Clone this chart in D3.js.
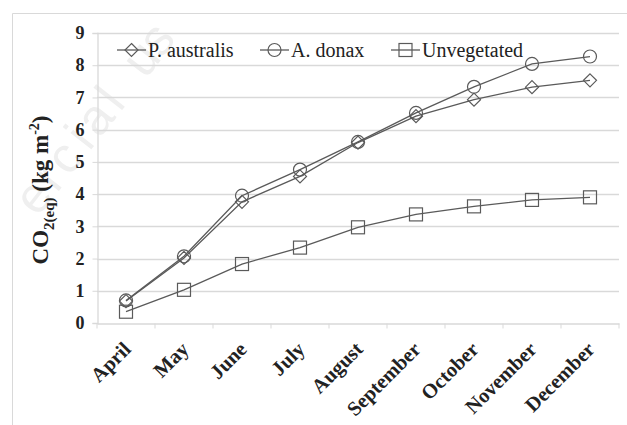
<!DOCTYPE html>
<html>
<head>
<meta charset="utf-8">
<script src="https://cdn.jsdelivr.net/npm/d3@7"></script>
<style>
  body { margin: 0; background: #fff; }
  svg { display: block; }
  svg text { font-family: "Liberation Serif", "Times New Roman", Times, "DejaVu Serif", serif; }
  svg text.wm { font-family: "Liberation Sans", Arial, sans-serif; }
</style>
</head>
<body>
<div id="chart"></div>
<script>
const months = ["April", "May", "June", "July", "August", "September", "October", "November", "December"];
const australis = [0.68, 2.02, 3.76, 4.55, 5.6, 6.42, 6.93, 7.32, 7.53];
const donax = [0.7, 2.07, 3.95, 4.76, 5.62, 6.52, 7.33, 8.04, 8.27];
const unvegetated = [0.35, 1.03, 1.83, 2.34, 2.97, 3.37, 3.62, 3.82, 3.9];
const yTicks = [0, 1, 2, 3, 4, 5, 6, 7, 8, 9];
const watermark = "ercial us";

const width = 627, height = 425;
const margin = { top: 33, right: 8, bottom: 102, left: 97 };
const lineColor = "#5a5a5a";
const gridColor = "#d9d9d9";

const svg = d3.select("#chart").append("svg")
  .attr("width", width)
  .attr("height", height);

// faint watermark, placed letter by letter along a diagonal
const wmAngle = -52 * Math.PI / 180;
watermark.split("").forEach((ch, i) => {
  const t = (i - (watermark.length - 1) / 2) * 25;
  svg.append("text")
    .attr("class", "wm")
    .attr("transform", `translate(${108 + t * Math.cos(wmAngle)},${128 + t * Math.sin(wmAngle)}) rotate(-52)`)
    .attr("text-anchor", "middle")
    .attr("font-size", 50)
    .attr("fill", "#efefef")
    .text(ch);
});

// outer frame
svg.append("path")
  .attr("d", `M12.5,${height} V13.5 H${width}`)
  .attr("fill", "none")
  .attr("stroke", "#d9d9d9");

const x = d3.scaleBand()
  .domain(months)
  .range([margin.left, width - margin.right]);

const y = d3.scaleLinear()
  .domain([0, 9])
  .range([height - margin.bottom, margin.top]);

// grid lines
svg.append("g")
  .selectAll("line")
  .data(yTicks.filter(d => d > 0))
  .join("line")
  .attr("x1", margin.left)
  .attr("x2", width - margin.right)
  .attr("y1", d => Math.round(y(d)) + 0.5)
  .attr("y2", d => Math.round(y(d)) + 0.5)
  .attr("stroke", gridColor)
  .attr("stroke-width", 1.3);

// y axis
const yAxis = svg.append("g")
  .attr("transform", `translate(${margin.left + 0.5},0)`)
  .call(d3.axisLeft(y).tickValues(yTicks).tickSize(5).tickPadding(8));
yAxis.attr("font-family", null);
yAxis.select(".domain").attr("stroke", gridColor).attr("stroke-width", 1.3);
yAxis.selectAll(".tick line").attr("stroke", gridColor);
yAxis.selectAll(".tick text")
  .attr("font-weight", "bold")
  .attr("font-size", 18)
  .attr("fill", "#222");

// x axis with ticks between categories
const xAxis = svg.append("g")
  .attr("transform", `translate(0,${Math.round(y(0)) + 0.5})`)
  .call(d3.axisBottom(x).tickSize(0).tickPadding(0));
xAxis.attr("font-family", null);
xAxis.select(".domain").attr("stroke", gridColor).attr("stroke-width", 1.3);
xAxis.append("g")
  .selectAll("line")
  .data(months.map(m => x(m)).concat([width - margin.right]))
  .join("line")
  .attr("x1", d => d)
  .attr("x2", d => d)
  .attr("y1", 0)
  .attr("y2", 5)
  .attr("stroke", gridColor);
xAxis.selectAll(".tick text")
  .attr("font-weight", "bold")
  .attr("font-size", 20.5)
  .attr("fill", "#222")
  .attr("text-anchor", "end")
  .attr("dy", null)
  .attr("y", 0)
  .attr("transform", "translate(6,27) rotate(-45)");

// y title
const title = svg.append("text")
  .attr("transform", `translate(48,${(margin.top + y(0)) / 2 + 12}) rotate(-90)`)
  .attr("text-anchor", "middle")
  .attr("font-weight", "bold")
  .attr("font-size", 23)
  .attr("fill", "#222");
title.append("tspan").text("CO");
title.append("tspan").attr("font-size", 15).attr("dy", 6).text("2(eq)");
title.append("tspan").attr("dy", -6).text(" (kg m");
title.append("tspan").attr("font-size", 14).attr("dy", -9).text("-2");
title.append("tspan").attr("dy", 9).text(")");

const series = [
  { name: "P. australis", values: australis, shape: "diamond" },
  { name: "A. donax", values: donax, shape: "circle" },
  { name: "Unvegetated", values: unvegetated, shape: "square" }
];

const line = d3.line()
  .x((d, i) => x(months[i]) + x.bandwidth() / 2)
  .y(d => y(d));

function marker(g, shape) {
  if (shape === "circle") {
    g.append("circle").attr("r", 6.5);
  } else if (shape === "square") {
    g.append("rect").attr("x", -6.5).attr("y", -6.5).attr("width", 13).attr("height", 13);
  } else {
    g.append("path").attr("d", "M0,-6.5 L6.5,0 L0,6.5 L-6.5,0 Z");
  }
  g.selectAll("*").attr("fill", "none").attr("stroke", lineColor).attr("stroke-width", 1.2);
}

series.forEach(s => {
  svg.append("path")
    .datum(s.values)
    .attr("d", line)
    .attr("fill", "none")
    .attr("stroke", lineColor)
    .attr("stroke-width", 1.3);
  s.values.forEach((v, i) => {
    const g = svg.append("g")
      .attr("transform", `translate(${x(months[i]) + x.bandwidth() / 2},${y(v)})`);
    marker(g, s.shape);
  });
});

// legend
const legendX = [117, 260, 391];
series.forEach((s, i) => {
  const g = svg.append("g").attr("transform", `translate(${legendX[i]},50)`);
  g.append("line").attr("x1", 0).attr("x2", 29).attr("stroke", lineColor).attr("stroke-width", 1.3);
  const m = g.append("g").attr("transform", "translate(14.5,0)");
  marker(m, s.shape);
  g.append("text")
    .attr("x", 31)
    .attr("y", 6.5)
    .attr("font-size", 20)
    .attr("fill", "#222")
    .text(s.name);
});
</script>
</body>
</html>
